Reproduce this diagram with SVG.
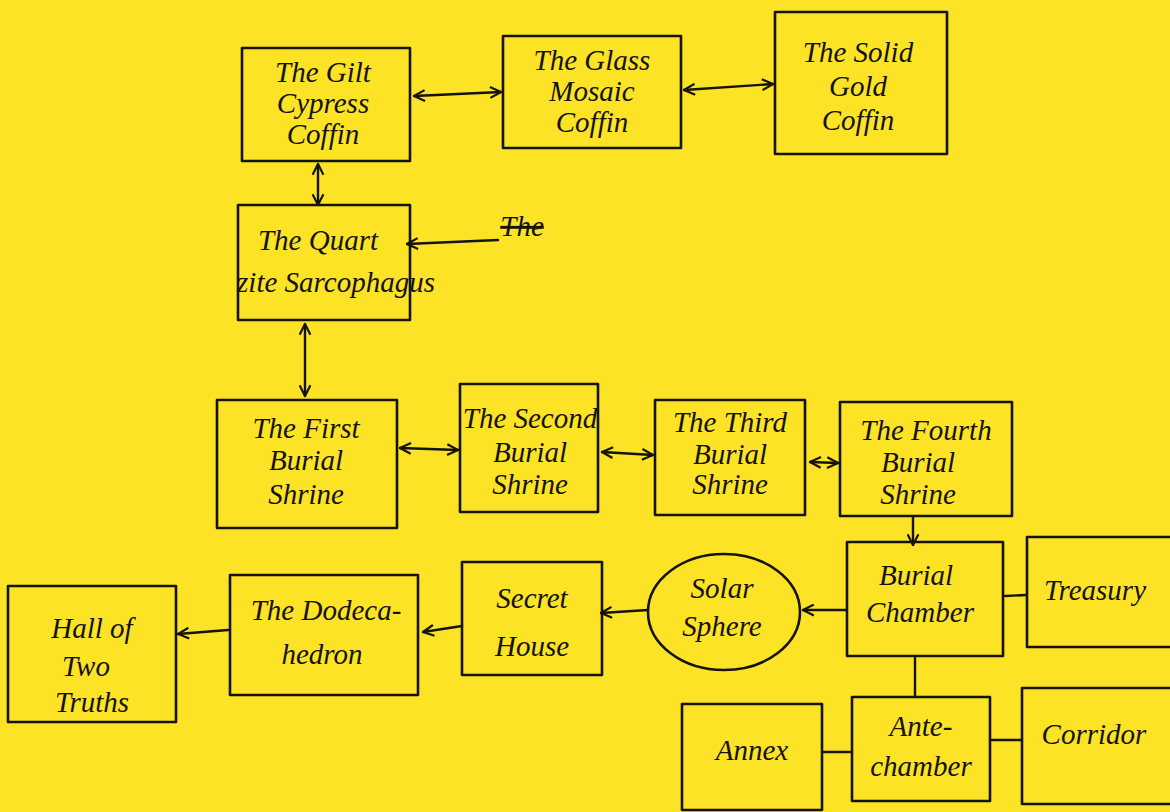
<svg xmlns="http://www.w3.org/2000/svg" width="1170" height="812" viewBox="0 0 1170 812">
<style>
.box{fill:none;stroke:#15130a;stroke-width:2.6;stroke-linejoin:round}
.t{font-family:"Liberation Serif",serif;font-style:italic;font-size:29px;fill:#15130a;text-anchor:middle}
.c{fill:none;stroke:#15130a;stroke-width:2.4;stroke-linecap:round}
</style>
<defs>
<marker id="a" viewBox="0 0 12 12" refX="11" refY="6" markerWidth="13" markerHeight="13" markerUnits="userSpaceOnUse" orient="auto-start-reverse">
<path d="M1,1 L11,6 L1,11" fill="none" stroke="#15130a" stroke-width="2"/>
</marker>
</defs>
<rect width="1170" height="812" fill="#fde326"/>
<g id="connectors">
<line class="c" x1="414" y1="96" x2="501" y2="92" marker-start="url(#a)" marker-end="url(#a)"/>
<line class="c" x1="684" y1="90" x2="773" y2="84" marker-start="url(#a)" marker-end="url(#a)"/>
<line class="c" x1="318" y1="164" x2="318" y2="205" marker-start="url(#a)" marker-end="url(#a)"/>
<line class="c" x1="305" y1="324" x2="305" y2="396" marker-start="url(#a)" marker-end="url(#a)"/>
<line class="c" x1="400" y1="448" x2="458" y2="450" marker-start="url(#a)" marker-end="url(#a)"/>
<line class="c" x1="602" y1="452" x2="653" y2="455" marker-start="url(#a)" marker-end="url(#a)"/>
<line class="c" x1="810" y1="462" x2="838" y2="463" marker-start="url(#a)" marker-end="url(#a)"/>
<line class="c" x1="498" y1="240" x2="407" y2="244" marker-end="url(#a)"/>
<line class="c" x1="913" y1="517" x2="913" y2="545" marker-end="url(#a)"/>
<line class="c" x1="846" y1="610" x2="803" y2="610" marker-end="url(#a)"/>
<line class="c" x1="648" y1="610" x2="601" y2="613" marker-end="url(#a)"/>
<line class="c" x1="462" y1="626" x2="423" y2="632" marker-end="url(#a)"/>
<line class="c" x1="228" y1="630" x2="178" y2="634" marker-end="url(#a)"/>
<line class="c" x1="1005" y1="596" x2="1026" y2="595"/>
<line class="c" x1="915" y1="658" x2="915" y2="697"/>
<line class="c" x1="823" y1="752" x2="850" y2="752"/>
<line class="c" x1="990" y1="740" x2="1021" y2="740"/>
</g>
<g id="gilt"><rect class="box" x="242" y="48" width="168" height="113"/><text class="t" x="323" y="82">The Gilt</text><text class="t" x="323" y="113">Cypress</text><text class="t" x="323" y="144">Coffin</text></g>
<g id="glass"><rect class="box" x="503" y="36" width="178" height="112"/><text class="t" x="592" y="70">The Glass</text><text class="t" x="592" y="101">Mosaic</text><text class="t" x="592" y="132">Coffin</text></g>
<g id="solid"><rect class="box" x="775" y="12" width="172" height="142"/><text class="t" x="858" y="62">The Solid</text><text class="t" x="858" y="96">Gold</text><text class="t" x="858" y="130">Coffin</text></g>
<g id="quartzite"><rect class="box" x="238" y="205" width="172" height="115"/><text class="t" x="318" y="250">The Quart</text><text class="t" x="336" y="292">zite Sarcophagus</text></g>
<g id="struck"><text class="t" x="522" y="236" text-decoration="line-through">The</text></g>
<g id="first"><rect class="box" x="217" y="400" width="180" height="128"/><text class="t" x="306" y="438">The First</text><text class="t" x="306" y="470">Burial</text><text class="t" x="306" y="504">Shrine</text></g>
<g id="second"><rect class="box" x="460" y="384" width="138" height="128"/><text class="t" x="530" y="428">The Second</text><text class="t" x="530" y="462">Burial</text><text class="t" x="530" y="494">Shrine</text></g>
<g id="third"><rect class="box" x="655" y="400" width="150" height="115"/><text class="t" x="730" y="432">The Third</text><text class="t" x="730" y="464">Burial</text><text class="t" x="730" y="494">Shrine</text></g>
<g id="fourth"><rect class="box" x="840" y="402" width="172" height="114"/><text class="t" x="926" y="440">The Fourth</text><text class="t" x="918" y="472">Burial</text><text class="t" x="918" y="504">Shrine</text></g>
<g id="burial"><rect class="box" x="847" y="542" width="156" height="114"/><text class="t" x="916" y="585">Burial</text><text class="t" x="920" y="622">Chamber</text></g>
<g id="treasury"><rect class="box" x="1027" y="537" width="145" height="110"/><text class="t" x="1095" y="600">Treasury</text></g>
<g id="solar"><ellipse class="box" cx="724" cy="612" rx="76" ry="58"/><text class="t" x="722" y="598">Solar</text><text class="t" x="722" y="636">Sphere</text></g>
<g id="secret"><rect class="box" x="462" y="562" width="140" height="113"/><text class="t" x="532" y="608">Secret</text><text class="t" x="532" y="656">House</text></g>
<g id="dodeca"><rect class="box" x="230" y="575" width="188" height="120"/><text class="t" x="326" y="620">The Dodeca-</text><text class="t" x="322" y="664">hedron</text></g>
<g id="hall"><rect class="box" x="8" y="586" width="168" height="136"/><text class="t" x="92" y="638">Hall of</text><text class="t" x="86" y="676">Two</text><text class="t" x="92" y="712">Truths</text></g>
<g id="annex"><rect class="box" x="682" y="704" width="140" height="106"/><text class="t" x="752" y="760">Annex</text></g>
<g id="ante"><rect class="box" x="852" y="697" width="138" height="104"/><text class="t" x="921" y="736">Ante-</text><text class="t" x="921" y="776">chamber</text></g>
<g id="corridor"><rect class="box" x="1022" y="688" width="150" height="116"/><text class="t" x="1094" y="744">Corridor</text></g>
</svg>
